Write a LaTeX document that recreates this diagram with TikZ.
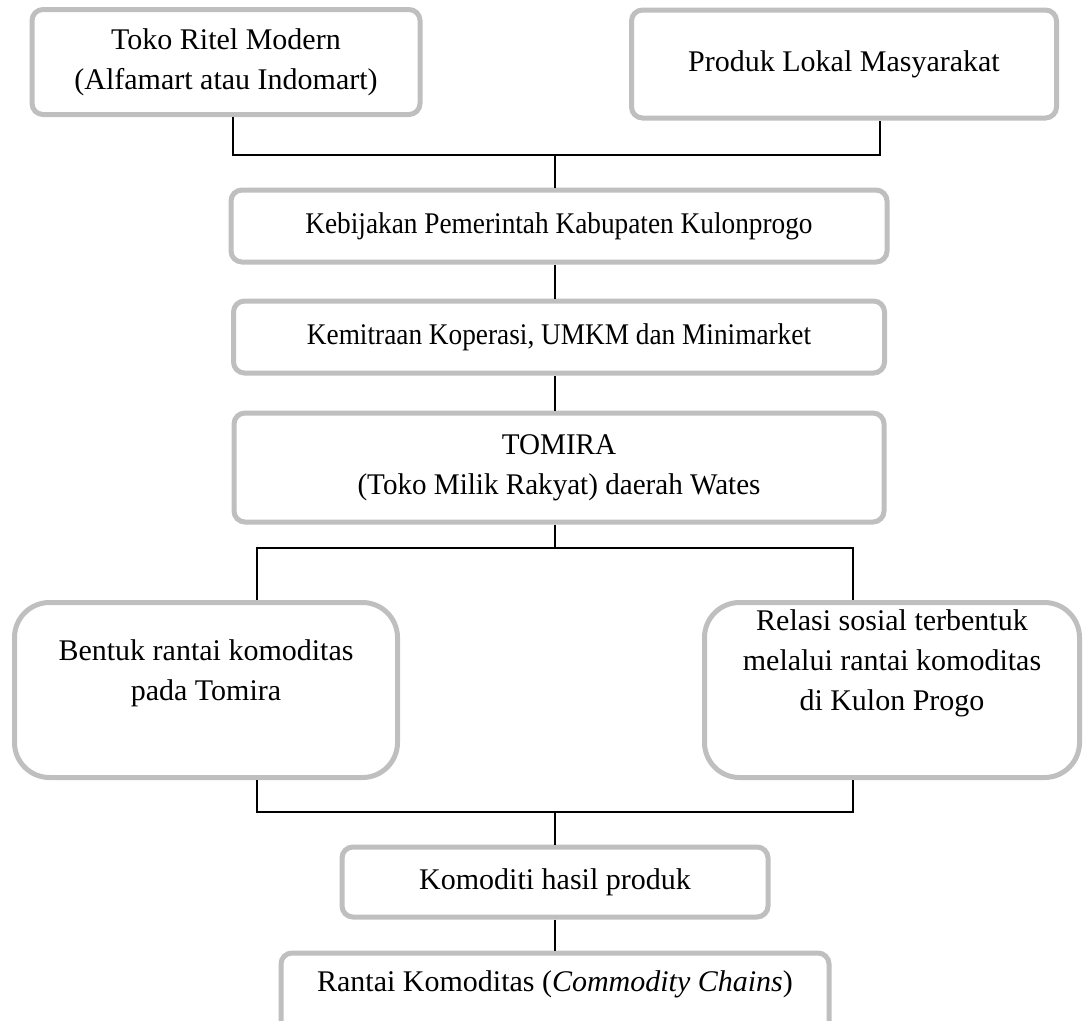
\documentclass[tikz,border=0pt]{standalone}
\usepackage{fontspec}
\setmainfont{Liberation Serif}
\newfontfamily\narrowserif[FakeStretch=0.91]{Liberation Serif}
\newfontfamily\slimserif[FakeStretch=0.97]{Liberation Serif}
\usepackage{tikz}
\usetikzlibrary{positioning, calc}
\definecolor{boxgray}{RGB}{191, 191, 191}

\begin{document}
\begin{tikzpicture}[x=1pt, y=1pt,
        flowbox/.style={rectangle, draw=boxgray, line width=5pt, rounded corners=11pt, align=center, inner sep=6pt, font=\fontsize{30}{40}\selectfont},
        bigbox/.style={flowbox, rounded corners=35pt},
        link/.style={line width=1.6pt, black}
    ]
        \useasboundingbox (0,0) rectangle (1083,-1020);

        % Top blocks
        \node[flowbox, minimum width=388pt, minimum height=105pt] (ritel) at (226,-62) {Toko Ritel Modern\\(Alfamart atau Indomart)};
        \node[flowbox, minimum width=425pt, minimum height=108pt] (lokal) at (844,-64) {Produk Lokal Masyarakat};

        % Middle column
        \node[flowbox, minimum width=656pt, minimum height=72pt] (kebijakan) at (559,-226) {\narrowserif Kebijakan Pemerintah Kabupaten Kulonprogo};
        \node[flowbox, minimum width=651pt, minimum height=72pt, below=34pt of kebijakan] (kemitraan) {\narrowserif Kemitraan Koperasi, UMKM dan Minimarket};
        \node[flowbox, minimum width=650pt, minimum height=109pt, below=35pt of kemitraan] (tomira) {\slimserif TOMIRA\\\slimserif (Toko Milik Rakyat) daerah Wates};

        % Two branches
        \node[bigbox, minimum width=383pt, minimum height=175pt] (bentuk) at (206,-690) {Bentuk rantai komoditas\\pada Tomira\\~};
        \node[bigbox, minimum width=375pt, minimum height=175pt] (relasi) at (892,-690) {Relasi sosial terbentuk\\melalui rantai komoditas\\di Kulon Progo\\[20pt]~};

        % Bottom blocks
        \node[flowbox, minimum width=426pt, minimum height=70pt] (komoditi) at (555,-882) {Komoditi hasil produk};
        \node[flowbox, minimum width=548pt, minimum height=84pt, text depth=27pt, below=31pt of komoditi] (rantai) {Rantai Komoditas (\textit{Commodity Chains})};

        % Junctions
        \coordinate (joinA) at (555,-155);
        \coordinate (joinB) at (555,-548);
        \coordinate (joinC) at (555,-812);

        % Connectors
        \draw[link] ([xshift=7pt]ritel.south) |- (joinA) -| ([xshift=36pt]lokal.south);
        \draw[link] (joinA) -- (joinA |- kebijakan.north);
        \draw[link] (joinA |- kebijakan.south) -- (joinA |- kemitraan.north);
        \draw[link] (joinA |- kemitraan.south) -- (joinA |- tomira.north);
        \draw[link] (joinB |- tomira.south) -- (joinB);
        \draw[link] ([xshift=51pt]bentuk.north) |- (joinB) -| ([xshift=-39pt]relasi.north);
        \draw[link] ([xshift=51pt]bentuk.south) |- (joinC) -| ([xshift=-39pt]relasi.south);
        \draw[link] (joinC) -- (joinC |- komoditi.north);
        \draw[link] (joinC |- komoditi.south) -- (joinC |- rantai.north);

    \end{tikzpicture}
\end{document}
